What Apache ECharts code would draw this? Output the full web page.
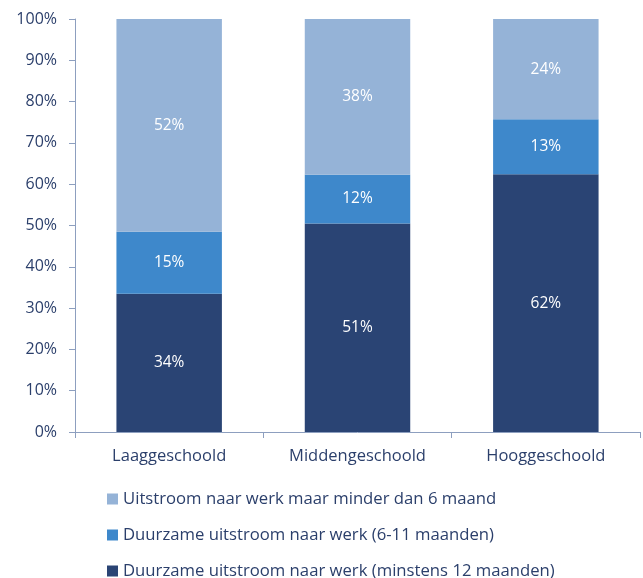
<!DOCTYPE html>
<html>
<head>
<meta charset="utf-8">
<script src="https://cdn.jsdelivr.net/npm/echarts@6/dist/echarts.min.js"></script>
<style>html,body{margin:0;padding:0;background:#fff;}#c{width:643px;height:578px;}</style>
</head>
<body>
<div id="c"></div>
<script>
const categories = ['Laaggeschoold', 'Middengeschoold', 'Hooggeschoold'];
const seriesNames = [
  'Duurzame uitstroom naar werk (minstens 12 maanden)',
  'Duurzame uitstroom naar werk (6-11 maanden)',
  'Uitstroom naar werk maar minder dan 6 maand'
];
const dark = [33.5, 50.5, 62.4];
const medium = [15.0, 11.8, 13.3];
const light = [51.5, 37.7, 24.3];
const yTicks = [0, 10, 20, 30, 40, 50, 60, 70, 80, 90, 100];

const colors = ['#2a4474', '#3e88cb', '#95b3d7'];
const txt = '#2b3f6b';
const font = '"Open Sans", sans-serif';

const chart = echarts.init(document.getElementById('c'));
const mk = (name, data, color) => ({
  name, type: 'bar', stack: 'all', data, barWidth: '56%',
  itemStyle: { color },
  label: { show: true, position: 'inside', color: '#fff', fontSize: 15.5, fontFamily: font,
           formatter: p => Math.round(p.value) + '%' }
});
chart.setOption({
  animation: false,
  grid: { left: 75, right: 3, top: 19, bottom: 146 },
  xAxis: {
    type: 'category', data: categories,
    axisLine: { lineStyle: { color: '#8d9fbf' } },
    axisTick: { show: true, length: 6, lineStyle: { color: '#8d9fbf' } },
    axisLabel: { color: txt, fontSize: 16.5, fontFamily: font, margin: 16 }
  },
  yAxis: {
    type: 'value', min: 0, max: 100, interval: 10,
    axisLine: { show: true, lineStyle: { color: '#8d9fbf' } },
    axisTick: { show: true, length: 6, lineStyle: { color: '#8d9fbf' } },
    splitLine: { show: false },
    axisLabel: { color: txt, fontSize: 16, fontFamily: font, margin: 18,
                 formatter: v => yTicks.includes(v) ? v + '%' : '' }
  },
  legend: {
    orient: 'vertical', left: 107, bottom: -2, itemGap: 18, padding: 0,
    itemWidth: 11, itemHeight: 11, icon: 'rect',
    data: [seriesNames[2], seriesNames[1], seriesNames[0]],
    textStyle: { color: txt, fontSize: 16.7, lineHeight: 18, fontFamily: font }
  },
  series: [
    mk(seriesNames[0], dark, colors[0]),
    mk(seriesNames[1], medium, colors[1]),
    mk(seriesNames[2], light, colors[2])
  ]
});
</script>
</body>
</html>
